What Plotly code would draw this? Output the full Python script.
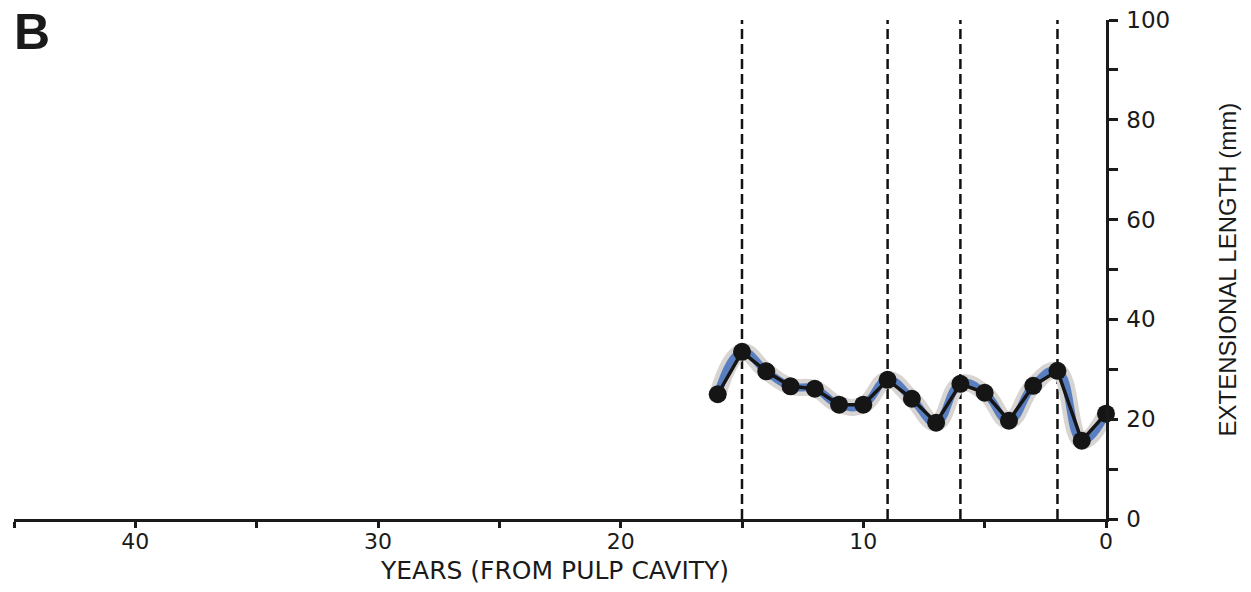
import plotly.graph_objects as go

years = [16, 15, 14, 13, 12, 11, 10, 9, 8, 7, 6, 5, 4, 3, 2, 1, 0]
length_mm = [25.0, 33.5, 29.6, 26.6, 26.1, 22.9, 22.9, 27.9, 24.1, 19.3, 27.1, 25.3, 19.7, 26.7, 29.7, 15.7, 21.1]
event_years = [15, 9, 6, 2]

x_ticks = [0, 5, 10, 15, 20, 25, 30, 35, 40, 45]
x_labels = ["0", "", "10", "", "20", "", "30", "", "40", ""]
y_ticks = [0, 10, 20, 30, 40, 50, 60, 70, 80, 90, 100]
y_labels = ["0", "", "20", "", "40", "", "60", "", "80", "", "100"]

INK = "#1a1a1a"
fig = go.Figure()
# grey uncertainty band (rendered as a wide soft line)
fig.add_trace(go.Scatter(x=years, y=length_mm, mode="lines",
                         line=dict(color="#d8d4d2", width=17, shape="spline", smoothing=1.3),
                         hoverinfo="skip", showlegend=False, cliponaxis=False))
# blue smooth fit
fig.add_trace(go.Scatter(x=years, y=length_mm, mode="lines",
                         line=dict(color="#5a7fc0", width=8, shape="spline", smoothing=1.3),
                         hoverinfo="skip", showlegend=False, cliponaxis=False))
# black data
fig.add_trace(go.Scatter(x=years, y=length_mm, mode="lines+markers", line=dict(color="#151515", width=3.5),
                         marker=dict(color="#151515", size=18), showlegend=False, cliponaxis=False))

for ey in event_years:
    fig.add_shape(type="line", x0=ey, x1=ey, xref="x", y0=0, y1=1, yref="paper",
                  line=dict(color="#111111", width=2.5, dash="10px,5px"), layer="below")

fig.add_annotation(text="<b>B</b>", x=-0.002, y=1.037, xref="paper", yref="paper", xanchor="left", yanchor="top",
                   showarrow=False, font=dict(family="Liberation Sans, Arial", size=50, color=INK))
fig.add_annotation(text="YEARS (FROM PULP CAVITY)", x=0.4954, y=-0.104, xref="paper", yref="paper",
                   xanchor="center", yanchor="middle", showarrow=False,
                   font=dict(family="DejaVu Sans, Liberation Sans", size=25, color=INK))
fig.add_annotation(text="EXTENSIONAL LENGTH (mm)", x=1.1117, y=0.5, xref="paper", yref="paper", textangle=-90,
                   xanchor="center", yanchor="middle", showarrow=False,
                   font=dict(family="Liberation Sans, Arial", size=24, color=INK))

fig.update_layout(
    width=1251, height=592,
    margin=dict(l=14, r=145, t=20, b=73),
    paper_bgcolor="white", plot_bgcolor="white",
    font=dict(family="DejaVu Sans, Liberation Sans", color=INK),
    xaxis=dict(range=[45, 0], tickvals=x_ticks, ticktext=x_labels, ticks="outside", ticklen=6, tickwidth=2.5,
               tickcolor=INK, showline=True, linecolor=INK, linewidth=2.5, showgrid=False, zeroline=False,
               tickfont=dict(size=22), ticklabelstandoff=-5, automargin=False),
    yaxis=dict(range=[0, 100], side="right", tickvals=y_ticks, ticktext=y_labels, ticks="outside", ticklen=9,
               tickwidth=2.5, tickcolor=INK, showline=True, linecolor=INK, linewidth=2.5,
               showgrid=False, zeroline=False, tickfont=dict(size=23), ticklabelstandoff=4, automargin=False),
)

fig.write_html("out.html")
